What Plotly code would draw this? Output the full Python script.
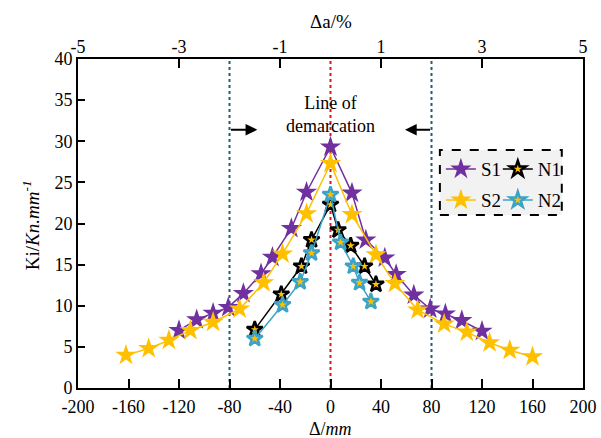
import plotly.graph_objects as go

# ---------------- data ----------------
s1_x = [-120, -106, -93, -81, -69, -55, -46, -31, -19, 0, 17, 28, 43, 52, 66, 79, 91, 104, 120]
s1_y = [7.0, 8.3, 9.1, 9.8, 11.5, 13.9, 15.9, 19.4, 23.8, 29.3, 23.7, 18.0, 15.8, 13.8, 11.3, 9.6, 9.0, 8.2, 6.9]

s2_x = [-162, -144, -128, -111, -93, -72, -53, -38, -19, 0, 17, 36, 51, 69, 90, 108, 126, 142, 160]
s2_y = [4.0, 4.8, 5.8, 7.0, 8.0, 9.6, 12.8, 16.3, 21.2, 27.3, 21.1, 16.2, 12.7, 9.5, 7.8, 6.8, 5.5, 4.6, 3.8]

n1_x = [-60, -39, -23, -15, 0, 6, 16, 27, 36]
n1_y = [7.1, 11.4, 14.8, 18.0, 22.3, 19.2, 17.3, 14.8, 12.6]

n2_x = [-60, -38, -24, -15, 0, 8, 18, 23, 32]
n2_y = [6.0, 10.1, 12.9, 16.4, 23.5, 17.7, 14.8, 12.8, 10.5]

x_ticks = [-200, -160, -120, -80, -40, 0, 40, 80, 120, 160, 200]
y_ticks = [0, 5, 10, 15, 20, 25, 30, 35, 40]
top_ticks = [-5, -3, -1, 1, 3, 5]
demarcation_x = [-80, 80]
center_x = 0
arrow_tip_x = [-58, 59]
arrow_y = 31.4
label_y = 33.2

x_title = "Δ/<i>mm</i>"
top_title = "Δa/%"
y_title = "Ki/<i>Kn.mm<sup>-1</sup></i>"

# ---------------- style ----------------
FONT = "Liberation Serif"
PURPLE = "#7030A0"
YELLOW = "#FFC000"
TEAL = "#3BA3C8"
DARKTEAL = "#1F5F7A"
RED = "#E0161B"

fig = go.Figure()

fig.add_trace(go.Scatter(
    x=s1_x, y=s1_y, mode="lines+markers", name="S1",
    line=dict(color=PURPLE, width=1.5),
    marker=dict(symbol="star", size=16, color=PURPLE, line=dict(width=0)),
    legend="legend"))
fig.add_trace(go.Scatter(
    x=s2_x, y=s2_y, mode="lines+markers", name="S2",
    line=dict(color=YELLOW, width=1.5),
    marker=dict(symbol="star", size=16, color=YELLOW, line=dict(width=0)),
    legend="legend2"))
fig.add_trace(go.Scatter(
    x=n1_x, y=n1_y, mode="lines+markers", name="N1",
    line=dict(color="black", width=1.5),
    marker=dict(symbol="star", size=12, color=YELLOW, line=dict(color="black", width=2.5)),
    legend="legend3"))
fig.add_trace(go.Scatter(
    x=n2_x, y=n2_y, mode="lines+markers", name="N2",
    line=dict(color=TEAL, width=1.5),
    marker=dict(symbol="star", size=12, color=YELLOW, line=dict(color=TEAL, width=2.5)),
    legend="legend4"))

# dummy trace for the top axis
fig.add_trace(go.Scatter(x=[top_ticks[0], top_ticks[-1]], y=[None, None], xaxis="x2",
                         mode="markers", showlegend=False, hoverinfo="skip"))

# vertical reference lines
for xv in demarcation_x:
    fig.add_shape(type="line", xref="x", yref="paper", x0=xv, x1=xv, y0=0, y1=1,
                  line=dict(color=DARKTEAL, width=2, dash="dot"), layer="below")
fig.add_shape(type="line", xref="x", yref="paper", x0=center_x, x1=center_x, y0=0, y1=1,
              line=dict(color=RED, width=2, dash="dot"), layer="below")

# legend frame
fig.add_shape(type="rect", xref="paper", yref="paper",
              x0=0.7166, x1=0.958, y0=0.526, y1=0.7237,
              line=dict(color="black", width=2, dash="dash"), fillcolor="#F2F2F2", layer="below")

# label and arrows
fig.add_annotation(x=center_x, y=label_y, xref="x", yref="y", text="Line of<br>demarcation",
                   showarrow=False, font=dict(family=FONT, size=18, color="black"))
for xv, tip in zip(demarcation_x, arrow_tip_x):
    fig.add_annotation(x=tip, y=arrow_y, ax=xv, ay=arrow_y, xref="x", yref="y",
                       axref="x", ayref="y", text="", showarrow=True,
                       arrowhead=2, arrowsize=1.3, arrowwidth=1.8, arrowcolor="black")

# axis titles
TITLEF = dict(family=FONT, size=19, color="black")
fig.add_annotation(x=0.5, y=-0.124, xref="paper", yref="paper", text=x_title,
                   showarrow=False, font=dict(family=FONT, size=18, color="black"),
                   xanchor="center", yanchor="middle")
fig.add_annotation(x=0.5, y=1.115, xref="paper", yref="paper", text=top_title,
                   showarrow=False, font=TITLEF, xanchor="center", yanchor="middle")
fig.add_annotation(x=-0.0943, y=0.496, xref="paper", yref="paper", text=y_title,
                   showarrow=False, font=TITLEF, textangle=-90, xanchor="center", yanchor="middle")

leg_common = dict(bgcolor="rgba(0,0,0,0)", borderwidth=0, xanchor="left", yanchor="middle",
                  font=dict(family=FONT, size=19, color="black"))
row1, row2 = 0.665, 0.571
col1, col2 = 0.7186, 0.8313
fig.update_layout(
    legend=dict(x=col1, y=row1, **leg_common),
    legend2=dict(x=col1, y=row2, **leg_common),
    legend3=dict(x=col2, y=row1, **leg_common),
    legend4=dict(x=col2, y=row2, **leg_common),
)

TICKF = dict(family=FONT, size=18, color="black")
fig.update_layout(
    width=601, height=438,
    margin=dict(l=77.7, r=17.7, t=59, b=49.7, autoexpand=False),
    paper_bgcolor="white", plot_bgcolor="white",
    font=dict(family=FONT, size=18, color="black"),
    xaxis=dict(range=[-200, 200], tickvals=x_ticks, ticktext=[str(v) for v in x_ticks],
               ticks="inside", ticklen=9, tickwidth=1.5, tickfont=TICKF, ticklabelstandoff=1,
               tickcolor="black", showline=True, linecolor="black", linewidth=2, mirror=True,
               showgrid=False, zeroline=False, automargin=False),
    xaxis2=dict(range=[-5, 5], tickvals=top_ticks, ticktext=[str(v) for v in top_ticks],
                overlaying="x", side="top", ticks="inside", tickfont=TICKF, ticklabelstandoff=1,
                ticklen=9, tickwidth=1.5, tickcolor="black", showgrid=False, zeroline=False,
                showline=False, automargin=False),
    yaxis=dict(range=[0, 40], tickvals=y_ticks, ticktext=[str(v) for v in y_ticks],
               ticks="inside", ticklen=7, tickwidth=1.5, tickfont=TICKF,
               tickcolor="black", showline=True, linecolor="black", linewidth=2, mirror=True,
               showgrid=False, zeroline=False, automargin=False),
)

fig.write_html("out.html")
